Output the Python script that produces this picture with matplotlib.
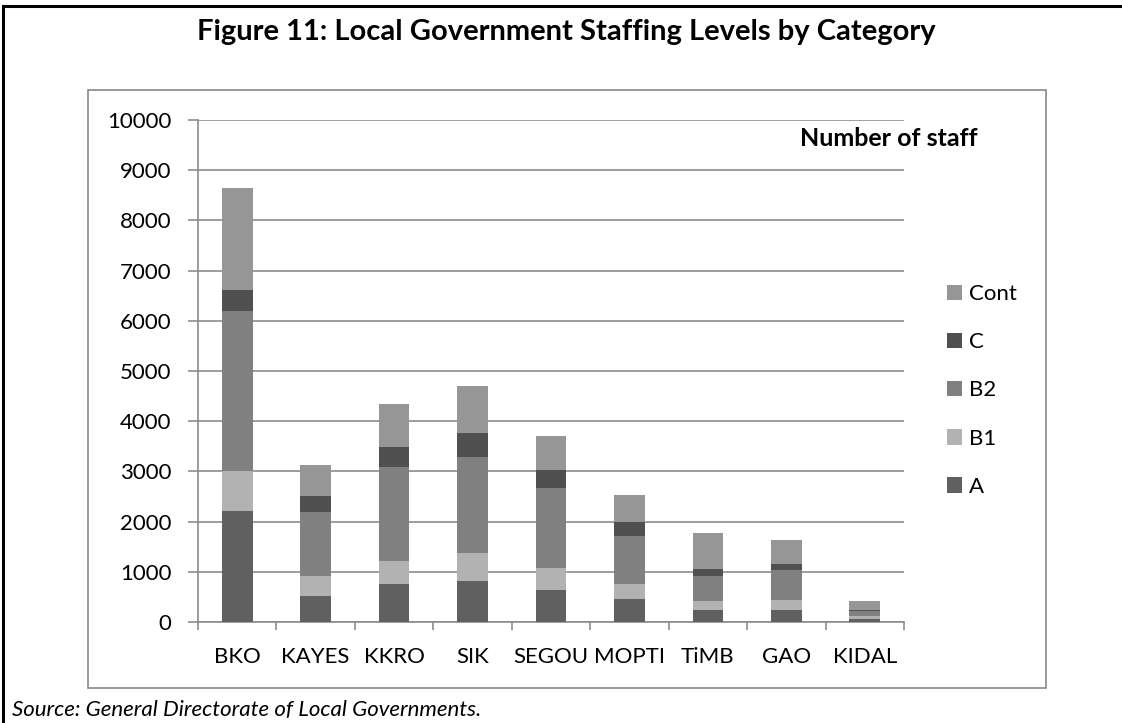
import numpy as np
import matplotlib
matplotlib.use("Agg")
import matplotlib.pyplot as plt
from matplotlib.patches import Rectangle

plt.rcParams['font.family'] = ['Lato', 'DejaVu Sans']

# staff counts per region, split by category
regions = ['BKO', 'KAYES', 'KKRO', 'SIK', 'SEGOU', 'MOPTI', 'TiMB', 'GAO', 'KIDAL']
cat_a = [2210, 520, 750, 810, 630, 465, 235, 240, 65]
cat_b1 = [800, 400, 465, 570, 445, 300, 180, 200, 55]
cat_b2 = [3190, 1265, 1875, 1915, 1590, 955, 505, 600, 100]
cat_c = [420, 330, 390, 460, 370, 265, 135, 125, 27]
cat_cont = [2020, 620, 860, 950, 670, 535, 720, 465, 173]

series = [('A', cat_a, '#606060'),
          ('B1', cat_b1, '#b2b2b2'),
          ('B2', cat_b2, '#808080'),
          ('C', cat_c, '#505050'),
          ('Cont', cat_cont, '#969696')]

W, H = 1122, 723
fig = plt.figure(figsize=(W / 100, H / 100), dpi=100)

def px_box(x0, y0, x1, y1):
    # pixel box (top-left origin) -> figure fraction [left, bottom, width, height]
    return [x0 / W, 1 - y1 / H, (x1 - x0) / W, (y1 - y0) / H]

ax = fig.add_axes(px_box(198, 120, 904, 622))

x = np.arange(len(regions))
bottom = np.zeros(len(regions))
handles = []
for name, vals, color in series:
    b = ax.bar(x, vals, width=0.39, bottom=bottom, color=color, label=name, zorder=3)
    handles.append(b)
    bottom += np.array(vals)

grid_col = '#8c8c8c'
ax.set_xlim(-0.5, len(regions) - 0.5)
ax.set_ylim(0, 10000)
ax.set_yticks(np.arange(0, 10001, 1000))
ax.yaxis.grid(True, color=grid_col, linewidth=1.2, zorder=0)
ax.set_axisbelow(True)

for side in ['top', 'right']:
    ax.spines[side].set_visible(False)
for side in ['left', 'bottom']:
    ax.spines[side].set_color(grid_col)
    ax.spines[side].set_linewidth(1.2)

ax.set_xticks(x)
ax.set_xticklabels(regions, fontsize=16)
ax.set_xticks(np.arange(-0.5, len(regions)), minor=True)
ax.tick_params(axis='x', which='major', length=0, pad=18)
ax.tick_params(axis='x', which='minor', length=6, width=1.2, color=grid_col, direction='out')
ax.tick_params(axis='y', length=7, width=1.2, color=grid_col, direction='out', pad=12, labelsize=16)

fig.text(978 / W, 1 - 138 / H, 'Number of staff', fontsize=18, fontweight='bold',
         ha='right', va='center')

# legend, top entry first like the stack order
leg = fig.legend(handles[::-1], [s[0] for s in series][::-1],
                 loc='upper left', bbox_to_anchor=(927 / W, 1 - 264 / H),
                 frameon=False, fontsize=16, handlelength=0.68, handleheight=0.68,
                 handletextpad=0.3, labelspacing=1.27)

# chart area frame and outer page frame
fig.patches.append(Rectangle((88 / W, 1 - 688 / H), (1046 - 88) / W, (688 - 90) / H,
                             transform=fig.transFigure, fill=False,
                             edgecolor='#888888', linewidth=1.2))
fig.patches.append(Rectangle((2.5 / W, -0.1), 1.2, 1.1 - 6.5 / H,
                             transform=fig.transFigure, fill=False,
                             edgecolor='black', linewidth=2.2))

fig.text(566 / W, 1 - 32 / H, 'Figure 11: Local Government Staffing Levels by Category',
         ha='center', va='center', fontsize=21, fontweight='bold')
fig.text(12 / W, 1 - 710 / H, 'Source: General Directorate of Local Governments.',
         ha='left', va='center', fontsize=16, style='italic')

fig.savefig('out.png', dpi=100)
